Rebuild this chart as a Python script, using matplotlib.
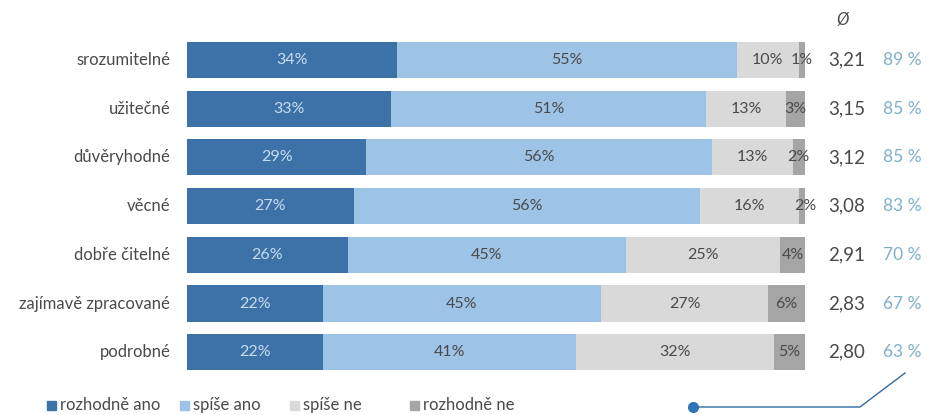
import matplotlib.pyplot as plt
from matplotlib.lines import Line2D
from matplotlib.patches import Rectangle

plt.rcParams['font.family'] = ['Lato', 'DejaVu Sans']

categories = ['srozumitelné', 'užitečné', 'důvěryhodné', 'věcné',
              'dobře čitelné', 'zajímavě zpracované', 'podrobné']
rozhodne_ano = [34, 33, 29, 27, 26, 22, 22]
spise_ano = [55, 51, 56, 56, 45, 45, 41]
spise_ne = [10, 13, 13, 16, 25, 27, 32]
rozhodne_ne = [1, 3, 2, 2, 4, 6, 5]
averages = ['3,21', '3,15', '3,12', '3,08', '2,91', '2,83', '2,80']
agree = [89, 85, 85, 83, 70, 67, 63]

series = [
    ('rozhodně ano', rozhodne_ano, '#3d72a8', '#c6dcf0'),
    ('spíše ano', spise_ano, '#9dc3e6', '#4a4a4a'),
    ('spíše ne', spise_ne, '#d9d9d9', '#4a4a4a'),
    ('rozhodně ne', rozhodne_ne, '#a5a5a5', '#4a4a4a'),
]

W, H = 928, 415
fig = plt.figure(figsize=(W / 100, H / 100), dpi=100)
row_h = 48.7
top = 60 - row_h / 2
ax = fig.add_axes([187 / W, 1 - (top + 7 * row_h) / H, 618 / W, 7 * row_h / H])
ax.set_xlim(0, 100)
ax.set_ylim(6.5, -0.5)
ax.axis('off')

y = list(range(len(categories)))
left = [0] * len(categories)
for name, vals, color, tcol in series:
    ax.barh(y, vals, left=left, height=0.74, color=color, label=name)
    for i, v in enumerate(vals):
        ax.text(left[i] + v / 2, i, f'{v}%', ha='center', va='center',
                fontsize=11.5, color=tcol)
    left = [l + v for l, v in zip(left, vals)]

for i, cat in enumerate(categories):
    ax.text(-2.7, i, cat, ha='right', va='center', fontsize=12, color='#4a4a4a')
    ax.text(106.8, i, averages[i], ha='center', va='center', fontsize=13.5,
            color='#4a4a4a', clip_on=False)
    ax.text(115.8, i, f'{agree[i]} %', ha='center', va='center', fontsize=12.5,
            color='#7fb0c8', clip_on=False)

fig.text(843 / W, 1 - 20 / H, 'Ø', ha='center', va='center', fontsize=12,
         color='#4a4a4a', style='italic')

# legend drawn by hand along the bottom
leg_x = [47, 180, 290, 410]
for (name, vals, color, tcol), lx in zip(series, leg_x):
    fig.add_artist(Rectangle((lx / W, 1 - 410 / H), 9 / W, 9 / H,
                             transform=fig.transFigure, color=color))
    fig.text((lx + 13) / W, 1 - 405 / H, name, ha='left', va='center',
             fontsize=12, color='#4a4a4a')

# pointer line under the last percentage
fig.add_artist(Line2D([693 / W, 860 / W, 905 / W],
                      [1 - 407 / H, 1 - 407 / H, 1 - 373 / H],
                      transform=fig.transFigure, color='#2f6aa3', lw=1))
fig.add_artist(Line2D([693 / W], [1 - 407 / H], transform=fig.transFigure,
                      marker='o', markersize=7, color='#2f75b6'))

fig.savefig('out.png', dpi=100)
